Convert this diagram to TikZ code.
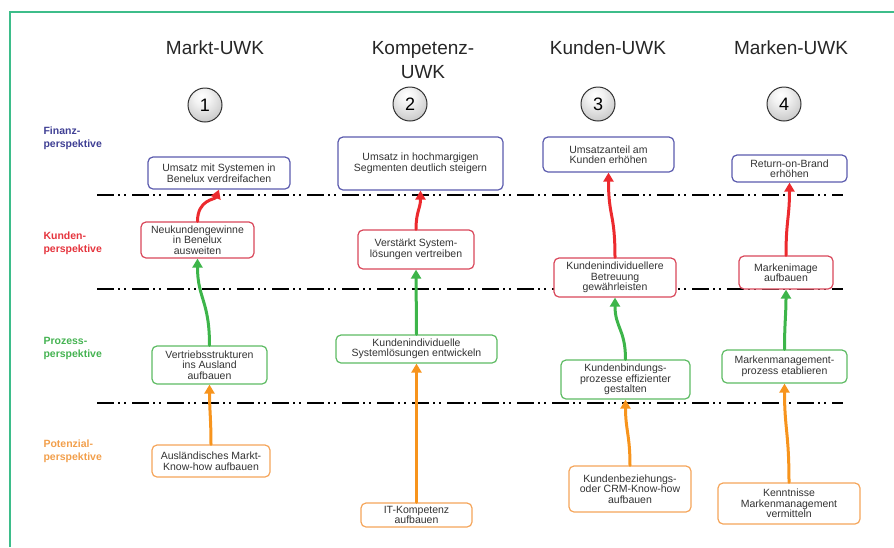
\documentclass[tikz,border=0pt]{standalone}
\usepackage{fontspec}
\setmainfont{Liberation Sans}
\usetikzlibrary{arrows.meta}

\definecolor{frameteal}{HTML}{3DBD8A}
\definecolor{finblue}{HTML}{3F3F94}
\definecolor{kunred}{HTML}{E5353E}
\definecolor{progreen}{HTML}{45B352}
\definecolor{potorange}{HTML}{F29F4B}
\definecolor{bblue}{HTML}{5B5BAE}
\definecolor{bred}{HTML}{D9475A}
\definecolor{bgreen}{HTML}{5DBB63}
\definecolor{borange}{HTML}{F5A55A}
\definecolor{ared}{HTML}{EC2A2E}
\definecolor{agreen}{HTML}{3DB54A}
\definecolor{aorange}{HTML}{F7941D}
\definecolor{boxtext}{HTML}{333333}

% soft grey button look for the numbered circles
\pgfdeclareradialshading{btnball}{\pgfpoint{-5bp}{14bp}}{%
  color(0bp)=(white); color(12bp)=(white!90!gray);
  color(30bp)=(gray!38); color(46bp)=(gray!62); color(70bp)=(gray!70)}

\tikzset{
  goal/.style={draw, rounded corners=5pt, fill=white, line width=1.2pt,
    align=center, text=boxtext, inner sep=2pt,
    font=\fontsize{10.5}{10.5}\selectfont},
  fgoal/.style={goal, draw=bblue},
  kgoal/.style={goal, draw=bred},
  pgoal/.style={goal, draw=bgreen},
  ogoal/.style={goal, draw=borange},
  numball/.style={circle, minimum size=34pt, inner sep=0pt, draw=black!80,
    line width=1pt, shading=btnball, font=\fontsize{18}{18}\selectfont},
  coltitle/.style={align=center, text=black!85,
    font=\fontsize{19}{24}\selectfont},
  persp/.style={anchor=west, align=left,
    font=\bfseries\fontsize{10.5}{13}\selectfont},
  sepline/.style={line width=2.2pt, black,
    dash pattern=on 17pt off 4pt on 2pt off 4pt on 2pt off 6pt},
  link/.style={line width=3pt, line cap=round,
    -{Triangle[length=9pt,width=10pt]}},
  rlink/.style={link, ared},
  glink/.style={link, agreen},
  olink/.style={link, aorange},
}

\begin{document}
\begin{tikzpicture}[x=1pt, y=-1pt]
\useasboundingbox (0,0) rectangle (894,547);

% outer frame (left and top edges)
\draw[frameteal, line width=2pt] (10,547) -- (10,12) -- (894,12);

% level separators
\draw[sepline] (97,195) -- (843,195);
\draw[sepline] (97,289) -- (843,289);
\draw[sepline] (97,403) -- (843,403);

% perspective labels
\node[persp, text=finblue]   (lfin) at (40,138) {Finanz-\\perspektive};
\node[persp, text=kunred]    (lkun) at (40,243) {Kunden-\\perspektive};
\node[persp, text=progreen]  (lpro) at (40,348) {Prozess-\\perspektive};
\node[persp, text=potorange] (lpot) at (40,451) {Potenzial-\\perspektive};

% column titles
\node[coltitle] (t1) at (215,48) {Markt-UWK};
\node[coltitle] (t2) at (423,60) {Kompetenz-\\UWK};
\node[coltitle] (t3) at (608,48) {Kunden-UWK};
\node[coltitle] (t4) at (791,48) {Marken-UWK};

% numbered circles
\node[numball] (c1) at (205,105) {1};
\node[numball] (c2) at (410,104) {2};
\node[numball] (c3) at (598,104) {3};
\node[numball] (c4) at (784,104) {4};

% column 1
\node[fgoal, minimum width=142pt, minimum height=32pt] (f1) at (219,173)
  {Umsatz mit Systemen in\\Benelux verdreifachen};
\node[kgoal, minimum width=113pt, minimum height=36pt] (k1) at (197.5,240)
  {Neukundengewinne\\in Benelux\\ausweiten};
\node[pgoal, minimum width=115pt, minimum height=38pt] (p1) at (209.5,365)
  {Vertriebsstrukturen\\ins Ausland\\aufbauen};
\node[ogoal, minimum width=118pt, minimum height=32pt] (o1) at (211,461)
  {Ausländisches Markt-\\Know-how aufbauen};

% column 2
\node[fgoal, minimum width=165pt, minimum height=53pt] (f2) at (420.5,163.5)
  {Umsatz in hochmargigen\\Segmenten deutlich steigern};
\node[kgoal, minimum width=116pt, minimum height=39pt] (k2) at (416,249.5)
  {Verstärkt System-\\lösungen vertreiben};
\node[pgoal, minimum width=161pt, minimum height=28pt] (p2) at (416.5,349)
  {Kundenindividuelle\\Systemlösungen entwickeln};
\node[ogoal, minimum width=111pt, minimum height=24pt] (o2) at (416.5,515)
  {IT-Kompetenz\\aufbauen};

% column 3
\node[fgoal, minimum width=131pt, minimum height=35pt] (f3) at (608.5,154.5)
  {Umsatzanteil am\\Kunden erhöhen};
\node[kgoal, minimum width=122pt, minimum height=39pt] (k3) at (615,277.5)
  {Kundenindividuellere\\Betreuung\\gewährleisten};
\node[pgoal, minimum width=129pt, minimum height=39pt] (p3) at (625.5,379.5)
  {Kundenbindungs-\\prozesse effizienter\\gestalten};
\node[ogoal, minimum width=122pt, minimum height=46pt] (o3) at (630,489)
  {Kundenbeziehungs-\\oder CRM-Know-how\\aufbauen};

% column 4
\node[fgoal, minimum width=115pt, minimum height=27pt] (f4) at (789.5,168.5)
  {Return-on-Brand\\erhöhen};
\node[kgoal, minimum width=94pt, minimum height=33pt] (k4) at (786,272.5)
  {Markenimage\\aufbauen};
\node[pgoal, minimum width=125pt, minimum height=33pt] (p4) at (784.5,366.5)
  {Markenmanagement-\\prozess etablieren};
\node[ogoal, minimum width=142pt, minimum height=41pt] (o4) at (789,503.5)
  {Kenntnisse\\Markenmanagement\\vermitteln};

% cause-and-effect links
\draw[olink] (o1.north) .. controls +(0,-25) and +(0,25) .. (p1.south);
\draw[glink] (p1.north) .. controls +(0,-45) and +(0,40) .. (k1.south);
\draw[rlink] (k1.north) .. controls +(0,-22) and +(-4,10) .. (f1.south);

\draw[olink] (o2.north) -- (p2.south);
\draw[glink] (p2.north) -- (k2.south);
\draw[rlink] (k2.north) .. controls +(0,-18) and +(0,18) .. (f2.south);

\draw[olink] (o3.north) .. controls +(0,-30) and +(0,30) .. (p3.south);
\draw[glink] (p3.north) .. controls +(0,-30) and +(0,30) .. (k3.south);
\draw[rlink] (k3.north) .. controls +(0,-45) and +(0,45) .. (f3.south);

\draw[olink] (o4.north) .. controls +(0,-50) and +(0,45) .. (p4.south);
\draw[glink] (p4.north) .. controls +(0,-25) and +(0,25) .. (k4.south);
\draw[rlink] (k4.north) .. controls +(0,-35) and +(0,35) .. (f4.south);
\end{tikzpicture}
\end{document}
